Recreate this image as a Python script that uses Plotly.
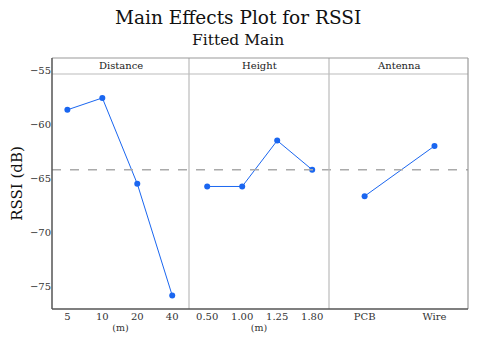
import plotly.graph_objects as go

distance_labels = ["5", "10", "20", "40"]
distance_values = [-58.6, -57.5, -65.45, -75.8]
height_labels = ["0.50", "1.00", "1.25", "1.80"]
height_values = [-65.7, -65.7, -61.45, -64.15]
antenna_labels = ["PCB", "Wire"]
antenna_values = [-66.6, -61.95]
grand_mean = -64.15
panel_titles = ["Distance", "Height", "Antenna"]

FONT = "DejaVu Serif, Liberation Serif, serif"
BLUE = "#1a66f0"
TXT = "#333333"

fig = go.Figure()
panels = [(distance_labels, distance_values, "x"),
          (height_labels, height_values, "x2"),
          (antenna_labels, antenna_values, "x3")]
for labels, vals, xa in panels:
    fig.add_trace(go.Scatter(
        x=list(range(len(labels))), y=vals, xaxis=xa, yaxis="y",
        mode="lines+markers",
        line=dict(color=BLUE, width=1),
        marker=dict(color=BLUE, size=6),
        showlegend=False, hoverinfo="skip"))

d1 = 137 / 416
d2 = 277 / 416
strip_y = 1 - 16 / 251

common_x = dict(showgrid=False, zeroline=False, showline=False, ticks="",
                tickfont=dict(family=FONT, size=10, color=TXT), anchor="y",
                fixedrange=True, automargin=False)

fig.update_layout(
    width=480, height=342,
    margin=dict(l=44, r=20, t=50, b=41),
    paper_bgcolor="white", plot_bgcolor="white",
    font=dict(family=FONT, color=TXT),
    xaxis=dict(domain=[0, d1], range=[-0.44, 3.48],
               tickvals=list(range(4)), ticktext=distance_labels,
               title=dict(text="(m)", font=dict(family=FONT, size=9.5, color=TXT), standoff=3),
               **common_x),
    xaxis2=dict(domain=[d1, d2], range=[-0.52, 3.48],
                tickvals=list(range(4)), ticktext=height_labels,
                title=dict(text="(m)", font=dict(family=FONT, size=9.5, color=TXT), standoff=3),
                **common_x),
    xaxis3=dict(domain=[d2, 1], range=[-0.51, 1.48],
                tickvals=list(range(2)), ticktext=antenna_labels,
                **common_x),
    yaxis=dict(domain=[0, 1], range=[-77.05, -53.8],
               tickvals=[-75, -70, -65, -60, -55],
               showgrid=False, zeroline=False, showline=False, ticks="",
               tickfont=dict(family=FONT, size=10, color=TXT),
               title=dict(text="RSSI (dB)", font=dict(family=FONT, size=15, color="#111"), standoff=10),
               fixedrange=True, automargin=False),
)

shapes = []
shapes.append(dict(type="line", xref="paper", yref="y", x0=0, x1=1,
                   y0=grand_mean, y1=grand_mean,
                   line=dict(color="#aaaaaa", width=1.5, dash="dash")))
for xd in (d1, d2):
    shapes.append(dict(type="line", xref="paper", yref="paper", x0=xd, x1=xd,
                       y0=0, y1=1, line=dict(color="#bbbbbb", width=1.2)))
shapes.append(dict(type="line", xref="paper", yref="paper", x0=0, x1=1,
                   y0=strip_y, y1=strip_y, line=dict(color="#bbbbbb", width=1.2)))
shapes.append(dict(type="line", xref="paper", yref="paper", x0=0, x1=1, y0=1, y1=1,
                   line=dict(color="#999999", width=1.2)))
shapes.append(dict(type="line", xref="paper", yref="paper", x0=1, x1=1, y0=0, y1=1,
                   line=dict(color="#999999", width=1.2)))
shapes.append(dict(type="line", xref="paper", yref="paper", x0=0, x1=0, y0=0, y1=1,
                   line=dict(color="#555555", width=1.5)))
shapes.append(dict(type="line", xref="paper", yref="paper", x0=0, x1=1, y0=0, y1=0,
                   line=dict(color="#555555", width=1.5)))
fig.update_layout(shapes=shapes)

annotations = []
centers = [d1 / 2, (d1 + d2) / 2, (d2 + 1) / 2]
for t, c in zip(panel_titles, centers):
    annotations.append(dict(text=t, xref="paper", yref="paper", x=c, y=(1 + strip_y) / 2,
                            xanchor="center", yanchor="middle", showarrow=False,
                            font=dict(family=FONT, size=10, color="#222")))
title_x = (230 - 44) / 416
annotations.append(dict(text="Main Effects Plot for RSSI", xref="paper", yref="paper",
                        x=title_x, y=1 + 40 / 251, xanchor="center", yanchor="middle",
                        showarrow=False, font=dict(family=FONT, size=18.5, color="#111")))
annotations.append(dict(text="Fitted Main", xref="paper", yref="paper",
                        x=title_x, y=1 + 18 / 251, xanchor="center", yanchor="middle",
                        showarrow=False, font=dict(family=FONT, size=15.5, color="#111")))
fig.update_layout(annotations=annotations)

fig.write_html("out.html")
